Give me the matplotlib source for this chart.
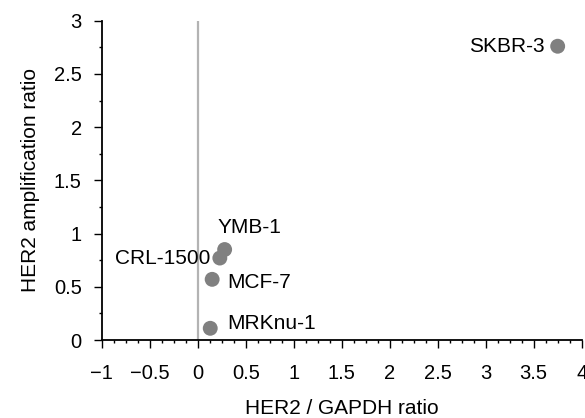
import matplotlib
matplotlib.use("Agg")
import matplotlib.pyplot as plt
from matplotlib.ticker import MultipleLocator, FuncFormatter

plt.rcParams['font.family'] = ['Liberation Sans', 'DejaVu Sans']

cell_lines = ["SKBR-3", "YMB-1", "CRL-1500", "MCF-7", "MRKnu-1"]
her2_gapdh = [3.75, 0.28, 0.23, 0.15, 0.13]
her2_amp = [2.76, 0.85, 0.77, 0.57, 0.11]

# label placement (offsets in points, alignment)
label_offsets = {
    "SKBR-3": (-9.5, 0, "right"),
    "YMB-1": (-5, 16, "left"),
    "CRL-1500": (-7, -0.5, "right"),
    "MCF-7": (11, -2, "left"),
    "MRKnu-1": (12, 3.5, "left"),
}

FS = 15
TFS = 14.5

fig = plt.figure(figsize=(5.85, 4.18), dpi=100)
ax = fig.add_axes([0.174, 0.1866, 0.9943 - 0.174, 0.9505 - 0.1866])

ax.set_xlim(-1, 4)
ax.set_ylim(0, 3)

ax.axvline(0, ymin=0, ymax=1, color="#b3b3b3", lw=1.6, zorder=1)

for name, x, y in zip(cell_lines, her2_gapdh, her2_amp):
    dx, dy, ha = label_offsets[name]
    ax.annotate(name, (x, y), xytext=(dx, dy), textcoords="offset points",
                ha=ha, va="center", fontsize=FS, color="black", zorder=2)

ax.scatter(her2_gapdh, her2_amp, s=115, color="#808080", edgecolors="none", zorder=3)

for s in ["top", "right"]:
    ax.spines[s].set_visible(False)
for s in ["left", "bottom"]:
    ax.spines[s].set_linewidth(1.3)
    ax.spines[s].set_color("black")

ax.xaxis.set_major_locator(MultipleLocator(0.5))
ax.xaxis.set_minor_locator(MultipleLocator(0.125))
ax.yaxis.set_major_locator(MultipleLocator(0.5))
ax.yaxis.set_minor_locator(MultipleLocator(0.25))

ax.xaxis.set_major_formatter(FuncFormatter(
    lambda v, p: ("\u2212" if v < 0 else "") + ("%g" % abs(v))))
ax.yaxis.set_major_formatter(FuncFormatter(lambda v, p: "%g" % v))

ax.tick_params(axis="x", which="major", direction="out", length=6, width=1.0, pad=11, labelsize=TFS)
ax.tick_params(axis="x", which="minor", direction="out", length=2.5, width=1.0)
ax.tick_params(axis="y", which="major", direction="out", length=6, width=1.0, pad=8.5, labelsize=TFS)
ax.tick_params(axis="y", which="minor", direction="out", length=2.5, width=1.0)

ax.set_xlabel("HER2 / GAPDH ratio", fontsize=FS, labelpad=12)
ax.set_ylabel("HER2 amplification ratio", fontsize=FS, labelpad=10)

fig.savefig("out.png", dpi=100)
